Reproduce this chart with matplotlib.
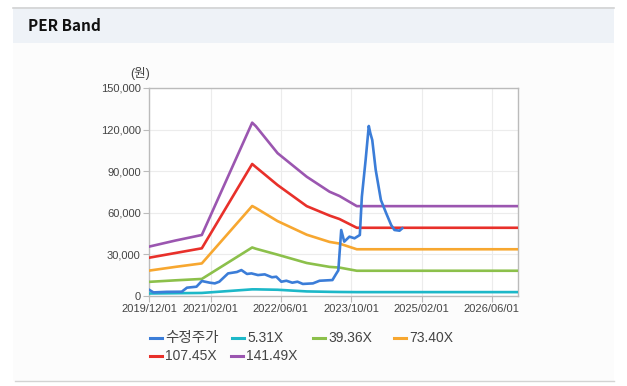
import numpy as np
import pandas as pd
import matplotlib
matplotlib.use("Agg")
import matplotlib.pyplot as plt
import matplotlib.dates as mdates
from matplotlib.patches import Rectangle
from matplotlib.lines import Line2D

plt.rcParams['font.family'] = ['Liberation Sans', 'Noto Sans CJK KR']

# --- datos ---
fechas_precio = ["2019-12-05", "2020-01-01", "2020-04-01", "2020-07-15", "2020-08-20",
                 "2020-10-25", "2020-12-01", "2021-01-25", "2021-03-01", "2021-04-01",
                 "2021-06-01", "2021-08-01", "2021-09-01", "2021-10-10", "2021-11-10",
                 "2021-12-25", "2022-02-10", "2022-04-01", "2022-05-01", "2022-06-05",
                 "2022-07-10", "2022-08-20", "2022-09-25", "2022-11-01", "2023-01-10",
                 "2023-02-25", "2023-05-25", "2023-06-20", "2023-07-05", "2023-07-25",
                 "2023-08-15", "2023-09-20", "2023-10-25", "2023-12-01", "2023-12-15",
                 "2024-01-10", "2024-02-01", "2024-02-12", "2024-02-25", "2024-03-20",
                 "2024-04-25", "2024-06-01", "2024-07-05", "2024-07-28", "2024-09-01",
                 "2024-09-20"]
precio = [4300, 2600, 3000, 3100, 6000,
          6700, 10800, 9600, 9100, 10300,
          16300, 17300, 18700, 15900, 16300,
          15100, 15600, 13500, 13900, 10300,
          11000, 9600, 10300, 8700, 9100,
          11000, 11500, 16000, 18500, 47600,
          39200, 42800, 41600, 44000, 71600,
          98000, 122600, 117300, 112500, 90900,
          69200, 59600, 51200, 47600, 47100,
          48800]

fechas_banda = ["2019-12-01", "2020-06-01", "2020-12-01", "2021-11-15", "2021-12-10",
                "2022-05-10", "2022-11-28", "2023-05-05", "2023-07-13", "2023-11-10",
                "2026-12-01"]
banda_5 = [1800, 2000, 2200, 4800, 4800, 4500, 3300, 3000, 2900, 2800, 2800]
banda_39 = [10200, 11300, 12300, 35000, 34100, 29800, 23800, 21000, 20500, 18200, 18200]
banda_73 = [18300, 21000, 23500, 64900, 63500, 54000, 44200, 39000, 37800, 33700, 33700]
banda_107 = [27600, 31000, 34400, 95200, 93000, 80000, 64800, 58000, 55500, 49200, 49200]
banda_141 = [35600, 40000, 44000, 125000, 122500, 103000, 86000, 75200, 72100, 64800, 64800]

etiquetas = ["수정주가", "5.31X", "39.36X", "73.40X", "107.45X", "141.49X"]
colores = ["#3b7dd8", "#1db8c8", "#8cc04b", "#f7a730", "#e8302a", "#9b56b0"]
ticks_x = ["2019-12-01", "2021-02-01", "2022-06-01", "2023-10-01", "2025-02-01", "2026-06-01"]
ticks_y = [0, 30000, 60000, 90000, 120000, 150000]

W, H = 627, 386
fig = plt.figure(figsize=(W / 100, H / 100), dpi=100, facecolor="white")

def px(x0, y0, x1, y1):
    return (x0 / W, 1 - y1 / H, (x1 - x0) / W, (y1 - y0) / H)

# panel de fondo y cabecera
l, b, w, h = px(13, 7, 614, 381)
fig.patches.append(Rectangle((l, b), w, h, transform=fig.transFigure, fc="#fcfcfc", ec="none", zorder=-2))
l, b, w, h = px(13, 7, 614, 43)
fig.patches.append(Rectangle((l, b), w, h, transform=fig.transFigure, fc="#eef2f7", ec="none", zorder=-1))
fig.add_artist(Line2D([13 / W, 614 / W], [1 - 7.5 / H] * 2, color="#d3d3d3", lw=1.2))
fig.add_artist(Line2D([15 / W, 614 / W], [1 - 381 / H] * 2, color="#d3d3d3", lw=1.0))
fig.text(28 / W, 1 - 26 / H, "PER Band", fontsize=11, fontweight="bold", va="center", ha="left",
         family=["Noto Sans CJK KR"], color="#111111")

ax = fig.add_axes([149 / W, 1 - 296 / H, (518 - 149) / W, (296 - 88) / H], zorder=2)
ax.set_facecolor("white")

fb = pd.to_datetime(fechas_banda)
bandas = [banda_5, banda_39, banda_73, banda_107, banda_141]
for i, serie in enumerate(bandas):
    ax.plot(fb, serie, color=colores[i + 1], lw=1.9, zorder=3)
ax.plot(pd.to_datetime(fechas_precio), precio, color=colores[0], lw=1.9, zorder=4)

ax.set_xlim(pd.Timestamp("2019-12-01"), pd.Timestamp("2026-12-01"))
ax.set_ylim(0, 150000)
ax.set_xticks(pd.to_datetime(ticks_x))
ax.xaxis.set_major_formatter(mdates.DateFormatter("%Y/%m/%d"))
ax.set_yticks(ticks_y)
ax.set_yticklabels([f"{v:,}" for v in ticks_y])
ax.tick_params(labelsize=8, colors="#bbbbbb", labelcolor="#444444", length=4, width=0.8, pad=2)
ax.grid(True, color="#ececec", lw=0.8)
ax.set_axisbelow(True)
for s in ax.spines.values():
    s.set_color("#bbbbbb")
    s.set_linewidth(1.0)

fig.text(140 / W, 1 - 74 / H, "(원)", fontsize=9, ha="center", va="center", color="#444444")

# leyenda manual, por filas
pos_leyenda = [(150, 338), (232, 338), (313, 338), (394, 338), (150, 356), (231, 356)]
for (x, y), etq, col in zip(pos_leyenda, etiquetas, colores):
    fig.add_artist(Line2D([x / W, (x + 12) / W], [1 - y / H] * 2, color=col, lw=2.2))
    tam = 10.5 if etq == "수정주가" else 10
    fig.text((x + 15) / W, 1 - y / H, etq, fontsize=tam, ha="left", va="center", color="#444444")

fig.savefig("out.png", dpi=100, facecolor="white")
